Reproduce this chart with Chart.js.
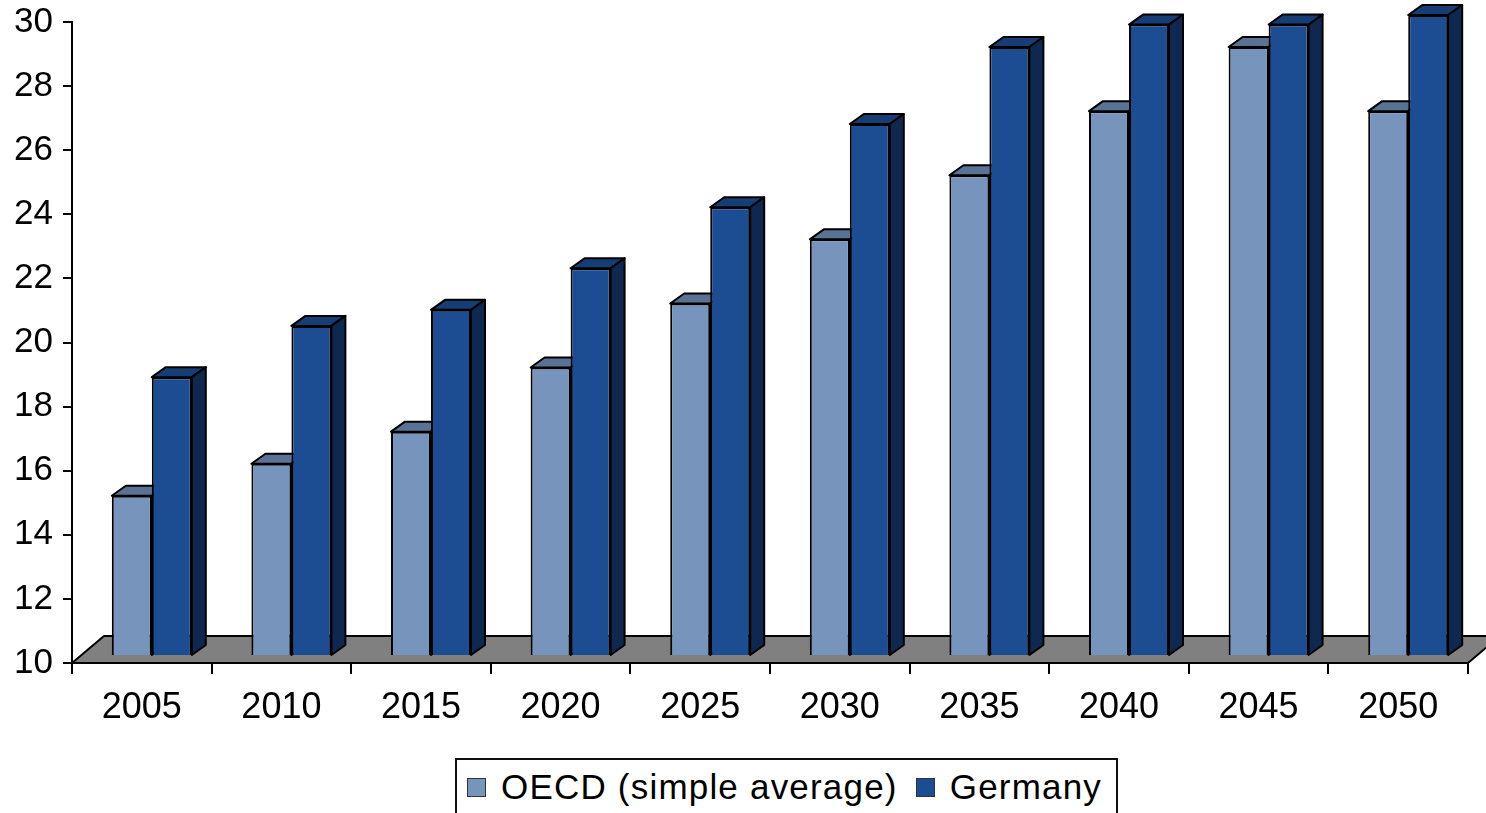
<!DOCTYPE html>
<html>
<head>
<meta charset="utf-8">
<script src="https://cdn.jsdelivr.net/npm/chart.js@4.4.1/dist/chart.umd.min.js"></script>
<style>
  html, body { margin: 0; padding: 0; background: #fff; overflow: hidden; }
  #wrap { position: relative; width: 1486px; height: 813px; }
  #legenda {
    position: absolute; left: 455px; top: 758px; width: 663px; height: 80px;
    border: 2px solid #111; box-sizing: border-box; background: #fff;
    display: flex; align-items: flex-start; padding: 7px 0 0 10px;
    font-family: "Liberation Sans", Arial, sans-serif; font-size: 35px; letter-spacing: 1.2px; color: #000;
  }
  .leg-item { display: flex; align-items: center; margin-right: 18px; white-space: nowrap; }
  .leg-box { width: 17px; height: 17px; border: 1.5px solid #333; margin-right: 15px; }
</style>
</head>
<body>
<div id="wrap">
  <canvas id="grafico" width="1486" height="813"></canvas>
  <div id="legenda"></div>
</div>
<script>
// ── DADOS
const ANOS = ['2005', '2010', '2015', '2020', '2025', '2030', '2035', '2040', '2045', '2050'];
const OECD = [15.0, 16.0, 17.0, 19.0, 21.0, 23.0, 25.0, 27.0, 29.0, 27.0];
const ALEMANHA = [18.7, 20.3, 20.8, 22.1, 24.0, 26.6, 29.0, 29.7, 29.7, 30.0];
const TICKS_Y = [10, 12, 14, 16, 18, 20, 22, 24, 26, 28, 30];

// ── CORES (frente, topo, lateral)
const COR_OECD = { frente: '#7795bc', topo: '#5a7294', lado: '#4a5f7d' };
const COR_ALEM = { frente: '#1c4c92', topo: '#163d74', lado: '#0f2850' };

// ── PROFUNDIDADE 3D
const PISO = { dx: 32, dy: 27 };
const BARRA = { dx: 14, dy: 10 };
const DESLOC = { x: 10, y: -7 };   // frente das barras no meio do piso

function desenharFaces(ctx, bar, cores) {
  const { x, y, base, width } = bar.getProps(['x', 'y', 'base', 'width'], true);
  const esq = x - width / 2 + DESLOC.x;
  const dir = x + width / 2 + DESLOC.x;
  const topo = y + DESLOC.y;
  const fundo = base + DESLOC.y;
  // topo
  ctx.beginPath();
  ctx.moveTo(esq, topo);
  ctx.lineTo(esq + BARRA.dx, topo - BARRA.dy);
  ctx.lineTo(dir + BARRA.dx, topo - BARRA.dy);
  ctx.lineTo(dir, topo);
  ctx.closePath();
  ctx.fillStyle = cores.topo;
  ctx.fill();
  ctx.stroke();
  // lateral
  ctx.beginPath();
  ctx.moveTo(dir, topo);
  ctx.lineTo(dir + BARRA.dx, topo - BARRA.dy);
  ctx.lineTo(dir + BARRA.dx, fundo - BARRA.dy);
  ctx.lineTo(dir, fundo);
  ctx.closePath();
  ctx.fillStyle = cores.lado;
  ctx.fill();
  ctx.stroke();
}

// piso cinza + colunas com topo e lateral (OECD primeiro, Germany por cima)
const efeito3d = {
  id: 'efeito3d',
  beforeDatasetsDraw(chart) {
    const { ctx, chartArea: a } = chart;
    ctx.save();
    ctx.beginPath();
    ctx.moveTo(a.left, a.bottom);
    ctx.lineTo(a.right, a.bottom);
    ctx.lineTo(a.right + PISO.dx, a.bottom - PISO.dy);
    ctx.lineTo(a.left + PISO.dx, a.bottom - PISO.dy);
    ctx.closePath();
    ctx.fillStyle = '#808080';
    ctx.fill();
    ctx.lineWidth = 2;
    ctx.lineJoin = 'round';
    ctx.strokeStyle = '#000';
    ctx.stroke();
    ctx.restore();
  },
  beforeDatasetDraw() {
    return false;
  },
  afterDatasetsDraw(chart) {
    const ctx = chart.ctx;
    chart.data.datasets.forEach((ds, i) => {
      const meta = chart.getDatasetMeta(i);
      ctx.save();
      ctx.translate(DESLOC.x, DESLOC.y);
      meta.data.forEach(el => el.draw(ctx));
      ctx.restore();
      ctx.save();
      ctx.lineWidth = 2;
      ctx.lineJoin = 'round';
      ctx.strokeStyle = '#000';
      meta.data.forEach(el => desenharFaces(ctx, el, ds.cores3d));
      ctx.restore();
    });
  }
};

const fonte = { family: '"Liberation Sans", Arial, sans-serif', size: 35 };

const grafico = new Chart(document.getElementById('grafico'), {
  type: 'bar',
  data: {
    labels: ANOS,
    datasets: [
      {
        label: 'OECD (simple average)',
        data: OECD,
        base: 10,
        backgroundColor: COR_OECD.frente,
        borderColor: '#000',
        borderWidth: 2,
        cores3d: COR_OECD
      },
      {
        label: 'Germany',
        data: ALEMANHA,
        base: 10,
        backgroundColor: COR_ALEM.frente,
        borderColor: '#000',
        borderWidth: 2,
        cores3d: COR_ALEM
      }
    ]
  },
  options: {
    responsive: false,
    animation: false,
    events: [],
    categoryPercentage: 0.573,
    barPercentage: 1,
    layout: { padding: { top: 22, right: 18, left: 0, bottom: 0 } },
    plugins: {
      legend: { display: false },
      tooltip: { enabled: false }
    },
    scales: {
      x: {
        afterFit: s => { s.height = 150; s.paddingLeft = 0; s.paddingRight = 0; },
        grid: { offset: true, drawOnChartArea: false, drawTicks: true, tickLength: 11, color: '#000', lineWidth: 2 },
        border: { display: true, color: '#000', width: 2 },
        ticks: { font: { ...fonte, size: 36 }, color: '#000', padding: 12 }
      },
      y: {
        min: 10,
        max: 30,
        afterFit: s => { s.width = 72; s.paddingTop = 0; s.paddingBottom = 0; },
        afterBuildTicks: s => { s.ticks = TICKS_Y.map(v => ({ value: v })); },
        grid: { drawOnChartArea: false, drawTicks: true, tickLength: 9, color: '#000', lineWidth: 2 },
        border: { display: true, color: '#000', width: 2 },
        ticks: { font: fonte, color: '#000', padding: 10 }
      }
    }
  },
  plugins: [efeito3d]
});

// ── LEGENDA (montada a partir dos datasets)
document.getElementById('legenda').innerHTML = grafico.data.datasets.map(ds =>
  `<div class="leg-item"><div class="leg-box" style="background:${ds.backgroundColor}"></div>${ds.label}</div>`
).join('');
</script>
</body>
</html>
